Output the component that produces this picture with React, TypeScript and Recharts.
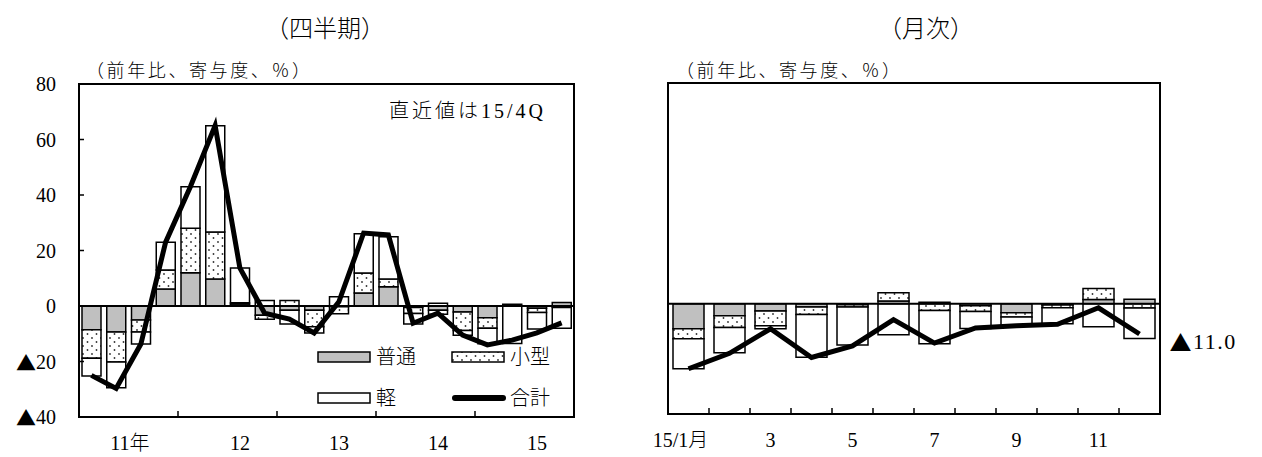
import React from 'react';
import {
  ComposedChart,
  Bar,
  Line,
  XAxis,
  YAxis,
  ReferenceLine,
  ReferenceArea,
  Legend,
  LabelList,
} from 'recharts';

// ---- quarterly data (2011/1Q - 2015/4Q), y/y contribution, % ----
const quarters = [
  '11/1Q', '11/2Q', '11/3Q', '11/4Q',
  '12/1Q', '12/2Q', '12/3Q', '12/4Q',
  '13/1Q', '13/2Q', '13/3Q', '13/4Q',
  '14/1Q', '14/2Q', '14/3Q', '14/4Q',
  '15/1Q', '15/2Q', '15/3Q', '15/4Q',
];
const yearLabels = ['11年', '12', '13', '14', '15'];
const qFutsu = [-8.6, -9.4, -5.0, 6.1, 12.0, 9.7, 0.7, -3.3, -1.5, -1.5, -0.3, 4.7, 6.9, -0.5, -1.5, -2.2, -4.2, 0.6, -0.8, 1.3];
const qKogata = [-10.2, -10.8, -4.4, 6.9, 16.0, 17.0, 0.5, -1.5, 2.0, -6.0, -2.5, 7.2, 2.8, -2.2, -1.5, -6.6, -3.8, 0, -1.5, -0.5];
const qKei = [-6.4, -9.3, -4.3, 10.0, 15.0, 38.3, 12.5, 2.0, -5.0, -2.2, 3.3, 14.1, 15.3, -3.8, 1.0, -1.7, -5.6, -13.5, -6.0, -7.5];
const qTotal = [-25.0, -29.7, -13.7, 23.0, 43.0, 65.0, 13.7, -2.6, -4.7, -9.7, 1.5, 26.3, 25.6, -6.2, -2.6, -10.5, -14.0, -12.3, -9.7, -6.1];

// ---- monthly data (2015/1 - 2015/12) ----
const months = ['15/1', '15/2', '15/3', '15/4', '15/5', '15/6', '15/7', '15/8', '15/9', '15/10', '15/11', '15/12'];
const monthLabels = ['15/1月', '3', '5', '7', '9', '11'];
const mFutsu = [-9.1, -4.4, -2.7, -1.2, -0.4, 1.0, 0.5, -0.8, -3.3, -0.5, 1.5, 1.6];
const mKogata = [-3.6, -4.2, -5.3, -2.7, -0.8, 3.0, -2.5, -2.0, -1.5, -1.0, 4.0, -1.6];
const mKei = [-10.9, -9.2, -1.1, -15.5, -13.8, -11.3, -12.0, -6.2, -3.2, -5.8, -8.4, -11.0];
const mTotal = [-23.6, -18.0, -9.1, -19.5, -15.3, -5.8, -14.3, -8.8, -8.0, -7.5, -1.5, -11.0];

const yTicks = [-40, -20, 0, 20, 40, 60, 80];
const legendOrder = ['futsu', 'kogata', 'kei', 'total'];

const quarterData = quarters.map((q, i) => ({
  q,
  futsu: qFutsu[i],
  kogata: qKogata[i],
  kei: qKei[i],
  total: qTotal[i],
}));

const monthData = months.map((m, i) => ({
  m,
  futsu: mFutsu[i],
  kogata: mKogata[i],
  kei: mKei[i],
  total: mTotal[i],
}));

const FONT = "'Liberation Serif', 'Noto Sans CJK JP', serif";
const CJK = "'Noto Sans CJK JP', sans-serif";
const GRAY = '#c0c0c0';

// negative numbers are written with a leading ▲ (CJK glyph)
function Signed({ value, digits }: { value: number; digits?: number }) {
  const abs = digits != null ? Math.abs(value).toFixed(digits) : String(Math.abs(value));
  return (
    <>
      {value < 0 && <tspan fontFamily={CJK}>▲</tspan>}
      <tspan>{abs}</tspan>
    </>
  );
}

function YTick(props: any) {
  const { x, y, payload } = props;
  return (
    <text x={x} y={y} textAnchor="end" dominantBaseline="central" fontSize={20} fontWeight={300} fill="#000" fontFamily={FONT}>
      <Signed value={Number(payload.value)} />
    </text>
  );
}

// category tick: optional label and an inward tick mark at the start of the band
function makeCategoryTick(
  labelAt: (i: number) => string | null,
  boundaryAt: (i: number) => boolean,
  firstLabelShift: number,
) {
  return (props: any) => {
    const { x, y, payload } = props;
    const i: number = props.index ?? payload?.index ?? 0;
    const half: number = payload?.offset ?? 12;
    const label = labelAt(i);
    return (
      <g>
        {boundaryAt(i) && (
          <line x1={x - half} x2={x - half} y1={y} y2={y - 6} stroke="#000" strokeWidth={1.5} />
        )}
        {label && (
          <text
            x={x + (i === 0 || (i < 4 && label.length > 2) ? firstLabelShift : 0)}
            y={y + 26}
            textAnchor="middle"
            dominantBaseline="central"
            fontSize={20}
            fontWeight={300}
            fill="#000"
            fontFamily={FONT}
          >
            {label}
          </text>
        )}
      </g>
    );
  };
}

const quarterTick = makeCategoryTick(
  (i) => (i % 4 === 2 ? yearLabels[Math.floor(i / 4)] : null),
  (i) => i > 0 && i % 4 === 0,
  -11,
);

const monthTick = makeCategoryTick(
  (i) => (i % 2 === 0 ? monthLabels[i / 2] : null),
  (i) => i > 0,
  -8,
);

function Swatch({ kind }: { kind: string }) {
  if (kind === 'total') {
    return <line x1={4} x2={52} y1={7} y2={7} stroke="#000" strokeWidth={6} strokeLinecap="round" />;
  }
  const fill = kind === 'futsu' ? GRAY : kind === 'kogata' ? 'url(#dots)' : '#fff';
  return <rect x={1} y={2} width={52} height={10} fill={fill} stroke="#000" strokeWidth={1.5} />;
}

function LegendGrid(props: any) {
  const payload = [...(props.payload || [])].sort(
    (a: any, b: any) => legendOrder.indexOf(String(a.dataKey)) - legendOrder.indexOf(String(b.dataKey)),
  );
  return (
    <div
      style={{
        display: 'grid',
        gridTemplateColumns: '134px 120px',
        rowGap: 17,
        fontSize: 20,
        fontWeight: 300,
        color: '#000',
        fontFamily: FONT,
      }}
    >
      {payload.map((entry: any) => (
        <div key={entry.value} style={{ display: 'flex', alignItems: 'center', height: 24 }}>
          <svg width={56} height={14} style={{ display: 'block' }}>
            <Swatch kind={String(entry.dataKey)} />
          </svg>
          <span style={{ marginLeft: 3, lineHeight: '24px', whiteSpace: 'nowrap' }}>{entry.value}</span>
        </div>
      ))}
    </div>
  );
}

function LastValueLabel(props: any) {
  const { x, y, index, value } = props;
  if (index !== monthData.length - 1) return null;
  return (
    <text x={x + 30} y={y + 7} dominantBaseline="central" fontSize={22} fontWeight={300} fill="#000" fontFamily={FONT} letterSpacing={1.5}>
      <Signed value={Number(value)} digits={1} />
    </text>
  );
}

const textStyle = (left: number, top: number, size: number): React.CSSProperties => ({
  position: 'absolute',
  left,
  top,
  fontSize: size,
  lineHeight: `${size}px`,
  fontWeight: 300,
  whiteSpace: 'nowrap',
  color: '#000',
  fontFamily: FONT,
});

export default function App() {
  const axisLine = { stroke: '#000', strokeWidth: 2 };
  const tickLine = { stroke: '#000', strokeWidth: 1.5 };
  return (
    <div style={{ position: 'absolute', left: 0, top: 0, width: 1262, height: 457, background: '#fff', fontFamily: FONT, overflow: 'hidden' }}>
      <svg width={0} height={0} style={{ position: 'absolute' }}>
        <defs>
          <pattern id="dots" width="9" height="8" patternUnits="userSpaceOnUse">
            <rect width="9" height="8" fill="#fff" />
            <circle cx="2" cy="2" r="0.9" fill="#333" />
            <circle cx="6.5" cy="6" r="0.9" fill="#333" />
          </pattern>
        </defs>
      </svg>

      {/* titles */}
      <div style={{ ...textStyle(265, 17, 24) }}>（四半期）</div>
      <div style={{ ...textStyle(878, 17, 24) }}>（月次）</div>
      <div style={{ ...textStyle(86, 62, 18), letterSpacing: 2.6 }}>（前年比、寄与度、％）</div>
      <div style={{ ...textStyle(676, 62, 18), letterSpacing: 2.6 }}>（前年比、寄与度、％）</div>
      <div style={{ ...textStyle(389, 101, 20), letterSpacing: 3 }}>直近値は15/4Q</div>

      {/* quarterly chart */}
      <div style={{ position: 'absolute', left: 0, top: 0 }}>
        <ComposedChart
          width={600}
          height={457}
          data={quarterData}
          stackOffset="sign"
          margin={{ top: 84, right: 26, bottom: 10, left: 19 }}
        >
          <XAxis
            dataKey="q"
            interval={0}
            height={30}
            tickLine={false}
            tickSize={0}
            tickMargin={0}
            axisLine={axisLine}
            tick={quarterTick}
          />
          <YAxis
            domain={[-40, 80]}
            ticks={yTicks}
            allowDataOverflow
            width={60}
            tickSize={-5}
            tickMargin={28}
            axisLine={axisLine}
            tickLine={tickLine}
            tick={YTick}
          />
          <ReferenceArea y1={-40} y2={80} fill="none" stroke="#000" strokeWidth={2} />
          <Bar dataKey="futsu" name="普通" stackId="s" fill={GRAY} stroke="#000" strokeWidth={1.5} barSize={19} isAnimationActive={false} />
          <Bar dataKey="kogata" name="小型" stackId="s" fill="url(#dots)" stroke="#000" strokeWidth={1.5} barSize={19} isAnimationActive={false} />
          <Bar dataKey="kei" name="軽" stackId="s" fill="#fff" stroke="#000" strokeWidth={1.5} barSize={19} isAnimationActive={false} />
          <ReferenceLine y={0} stroke="#000" strokeWidth={2} />
          <Line dataKey="total" name="合計" type="linear" stroke="#000" strokeWidth={5} dot={false} isAnimationActive={false} />
          <Legend
            layout="horizontal"
            verticalAlign="middle"
            align="center"
            wrapperStyle={{ left: 317, top: 345, width: 260, height: 70 }}
            content={LegendGrid}
          />
        </ComposedChart>
      </div>

      {/* monthly chart */}
      <div style={{ position: 'absolute', left: 600, top: 0 }}>
        <ComposedChart
          width={662}
          height={457}
          data={monthData}
          stackOffset="sign"
          margin={{ top: 83, right: 102, bottom: 13, left: 68 }}
        >
          <XAxis
            dataKey="m"
            interval={0}
            height={30}
            tickLine={false}
            tickSize={0}
            tickMargin={0}
            axisLine={axisLine}
            tick={monthTick}
          />
          <YAxis
            domain={[-40, 80]}
            ticks={yTicks}
            allowDataOverflow
            width={0}
            tickSize={-5}
            tickMargin={0}
            axisLine={axisLine}
            tickLine={tickLine}
            tickFormatter={() => ''}
          />
          <ReferenceArea y1={-40} y2={80} fill="none" stroke="#000" strokeWidth={2} />
          <Bar dataKey="futsu" name="普通" stackId="s" fill={GRAY} stroke="#000" strokeWidth={1.5} barSize={31} isAnimationActive={false} />
          <Bar dataKey="kogata" name="小型" stackId="s" fill="url(#dots)" stroke="#000" strokeWidth={1.5} barSize={31} isAnimationActive={false} />
          <Bar dataKey="kei" name="軽" stackId="s" fill="#fff" stroke="#000" strokeWidth={1.5} barSize={31} isAnimationActive={false} />
          <ReferenceLine y={0} stroke="#000" strokeWidth={2} />
          <Line dataKey="total" name="合計" type="linear" stroke="#000" strokeWidth={5} dot={false} isAnimationActive={false}>
            <LabelList dataKey="total" content={LastValueLabel} />
          </Line>
        </ComposedChart>
      </div>
    </div>
  );
}
